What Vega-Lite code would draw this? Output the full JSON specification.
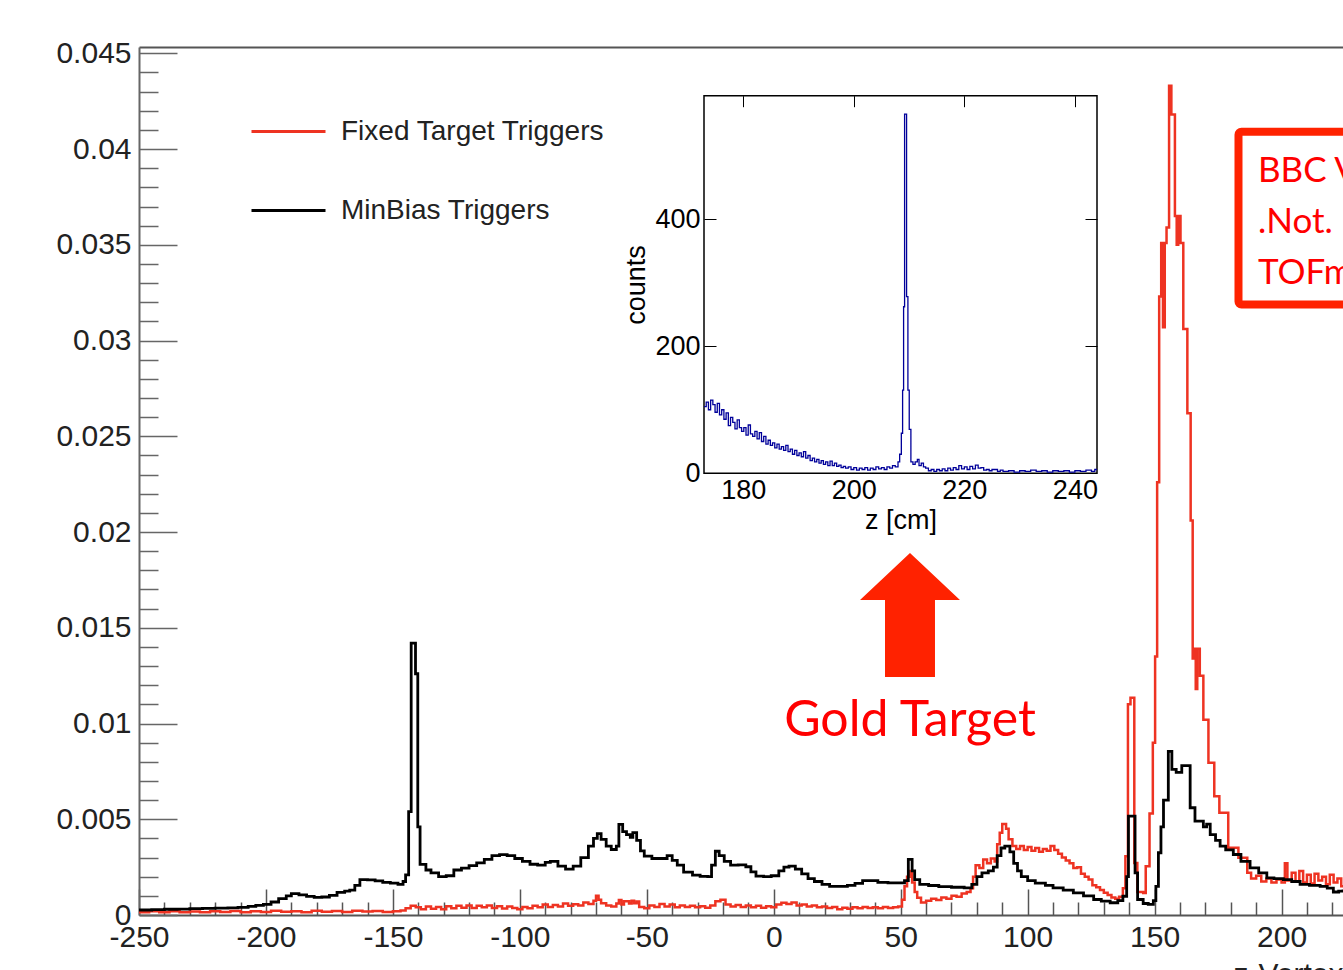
{
  "$schema": "https://vega.github.io/schema/vega-lite/v6.json",
  "width": 1204,
  "height": 868,
  "autosize": {"type": "none"},
  "padding": {"left": 139, "top": 47, "right": 0, "bottom": 55},
  "background": "white",
  "config": {
    "view": {"stroke": null},
    "font": "Liberation Sans",
    "axis": {"grid": false, "labelFont": "Liberation Sans", "titleFont": "Liberation Sans", "titleFontWeight": "normal"},
    "legend": {"orient": "none", "legendX": 111, "legendY": 46, "symbolType": "stroke", "symbolSize": 5476, "symbolStrokeWidth": 3, "labelFontSize": 28, "labelFont": "Liberation Sans", "labelColor": "#222", "rowPadding": 26, "labelOffset": 14, "padding": 0, "labelLimit": 500}
  },
  "datasets": {
    "fixed": [
      {"z":-250,"v":0.00015},{"z":-246,"v":0.00019},{"z":-242,"v":0.00014},{"z":-238,"v":0.0002},{"z":-234,"v":0.00015},{"z":-230,"v":0.00018},{"z":-226,"v":0.00014},{"z":-222,"v":0.0002},{"z":-218,"v":0.00016},{"z":-214,"v":0.00021},{"z":-210,"v":0.00015},{"z":-206,"v":0.00019},{"z":-202,"v":0.00016},{"z":-198,"v":0.00022},{"z":-194,"v":0.00017},{"z":-190,"v":0.0002},{"z":-186,"v":0.00015},{"z":-182,"v":0.00022},{"z":-178,"v":0.00017},{"z":-174,"v":0.00021},{"z":-170,"v":0.00016},{"z":-166,"v":0.00022},{"z":-162,"v":0.00018},{"z":-158,"v":0.00021},{"z":-154,"v":0.00016},{"z":-150,"v":0.0002},{"z":-147,"v":0.00024},{"z":-145,"v":0.00035},{"z":-143,"v":0.00048},{"z":-141,"v":0.0004},{"z":-139,"v":0.0003},{"z":-137,"v":0.00045},{"z":-135,"v":0.00033},{"z":-133,"v":0.00042},{"z":-131,"v":0.0003},{"z":-129,"v":0.00046},{"z":-127,"v":0.00035},{"z":-125,"v":0.00048},{"z":-123,"v":0.00038},{"z":-121,"v":0.0005},{"z":-119,"v":0.00037},{"z":-117,"v":0.00048},{"z":-115,"v":0.0004},{"z":-113,"v":0.0005},{"z":-111,"v":0.00036},{"z":-109,"v":0.00046},{"z":-107,"v":0.00034},{"z":-105,"v":0.00044},{"z":-103,"v":0.00036},{"z":-101,"v":0.0003},{"z":-99,"v":0.00042},{"z":-97,"v":0.00035},{"z":-95,"v":0.00048},{"z":-93,"v":0.0004},{"z":-91,"v":0.00055},{"z":-89,"v":0.00042},{"z":-87,"v":0.00052},{"z":-85,"v":0.00045},{"z":-83,"v":0.0006},{"z":-81,"v":0.00048},{"z":-79,"v":0.00056},{"z":-77,"v":0.0005},{"z":-75,"v":0.00065},{"z":-73,"v":0.00058},{"z":-71,"v":0.00075},{"z":-70,"v":0.001},{"z":-69,"v":0.0008},{"z":-68,"v":0.00062},{"z":-66,"v":0.0005},{"z":-64,"v":0.00045},{"z":-62,"v":0.0006},{"z":-61,"v":0.00078},{"z":-60,"v":0.00055},{"z":-59,"v":0.00072},{"z":-57,"v":0.0006},{"z":-56,"v":0.00075},{"z":-55,"v":0.00062},{"z":-54,"v":0.0007},{"z":-53,"v":0.00042},{"z":-51,"v":0.00035},{"z":-49,"v":0.0005},{"z":-47,"v":0.00042},{"z":-45,"v":0.00058},{"z":-43,"v":0.00044},{"z":-41,"v":0.00055},{"z":-39,"v":0.0004},{"z":-37,"v":0.0005},{"z":-35,"v":0.00042},{"z":-33,"v":0.00048},{"z":-31,"v":0.0004},{"z":-29,"v":0.00046},{"z":-27,"v":0.00038},{"z":-25,"v":0.0005},{"z":-23,"v":0.00072},{"z":-21,"v":0.0008},{"z":-19,"v":0.00055},{"z":-17,"v":0.00045},{"z":-15,"v":0.00052},{"z":-13,"v":0.00042},{"z":-11,"v":0.0005},{"z":-9,"v":0.0004},{"z":-7,"v":0.00048},{"z":-5,"v":0.00038},{"z":-3,"v":0.00046},{"z":-1,"v":0.0004},{"z":1,"v":0.00055},{"z":3,"v":0.00064},{"z":5,"v":0.00058},{"z":7,"v":0.00065},{"z":9,"v":0.0005},{"z":11,"v":0.00055},{"z":13,"v":0.00045},{"z":15,"v":0.0005},{"z":17,"v":0.0004},{"z":19,"v":0.00045},{"z":21,"v":0.00036},{"z":23,"v":0.00042},{"z":25,"v":0.0003},{"z":27,"v":0.00038},{"z":29,"v":0.00032},{"z":31,"v":0.0004},{"z":33,"v":0.00035},{"z":35,"v":0.00042},{"z":37,"v":0.00036},{"z":39,"v":0.0004},{"z":41,"v":0.00035},{"z":43,"v":0.00042},{"z":45,"v":0.00036},{"z":47,"v":0.0004},{"z":49,"v":0.00045},{"z":50.5,"v":0.0008},{"z":51.5,"v":0.0015},{"z":52.5,"v":0.002},{"z":53.5,"v":0.0023},{"z":54.5,"v":0.0017},{"z":55.5,"v":0.0012},{"z":56.5,"v":0.0009},{"z":58,"v":0.00065},{"z":60,"v":0.00075},{"z":62,"v":0.00085},{"z":64,"v":0.00078},{"z":66,"v":0.00092},{"z":68,"v":0.00085},{"z":70,"v":0.001},{"z":72,"v":0.00095},{"z":74,"v":0.00112},{"z":76,"v":0.0012},{"z":77.5,"v":0.0014},{"z":78.5,"v":0.002},{"z":79.5,"v":0.0026},{"z":81,"v":0.00245},{"z":82.5,"v":0.0029},{"z":84,"v":0.0027},{"z":85.5,"v":0.00295},{"z":87,"v":0.0028},{"z":88,"v":0.0037},{"z":89,"v":0.0043},{"z":90,"v":0.00475},{"z":91.5,"v":0.0045},{"z":92.5,"v":0.00395},{"z":94,"v":0.0036},{"z":95.5,"v":0.00345},{"z":97,"v":0.0036},{"z":98.5,"v":0.0034},{"z":100,"v":0.00355},{"z":101.5,"v":0.00335},{"z":103,"v":0.0035},{"z":104.5,"v":0.0033},{"z":106,"v":0.00345},{"z":107.5,"v":0.00335},{"z":109,"v":0.0036},{"z":110.5,"v":0.0034},{"z":112,"v":0.0032},{"z":113.5,"v":0.003},{"z":115,"v":0.00285},{"z":116.5,"v":0.0027},{"z":118,"v":0.00246},{"z":119.5,"v":0.0025},{"z":121,"v":0.00215},{"z":122.5,"v":0.002},{"z":124,"v":0.00185},{"z":125.5,"v":0.00155},{"z":127,"v":0.00145},{"z":128.5,"v":0.0013},{"z":130,"v":0.00116},{"z":131.5,"v":0.00105},{"z":133,"v":0.00092},{"z":134.5,"v":0.00085},{"z":136,"v":0.00095},{"z":137.5,"v":0.0014},{"z":138.5,"v":0.00307},{"z":139.5,"v":0.011},{"z":140.5,"v":0.01134},{"z":142,"v":0.00272},{"z":143.2,"v":0.0012},{"z":145.5,"v":0.00115},{"z":146.5,"v":0.00255},{"z":148,"v":0.0053},{"z":149.3,"v":0.009},{"z":150.2,"v":0.0135},{"z":151,"v":0.0226},{"z":151.8,"v":0.0323},{"z":152.6,"v":0.0351},{"z":153.3,"v":0.0307},{"z":154,"v":0.0351},{"z":154.7,"v":0.0359},{"z":155.7,"v":0.0433},{"z":156.6,"v":0.0418},{"z":158,"v":0.0365},{"z":158.7,"v":0.035},{"z":159.3,"v":0.0365},{"z":160.2,"v":0.0351},{"z":161.3,"v":0.0306},{"z":162.9,"v":0.0262},{"z":164.2,"v":0.0206},{"z":165,"v":0.0134},{"z":165.7,"v":0.0139},{"z":166.2,"v":0.0118},{"z":166.8,"v":0.0139},{"z":167.8,"v":0.0125},{"z":169.2,"v":0.0102},{"z":171.2,"v":0.00795},{"z":173.5,"v":0.0062},{"z":175.5,"v":0.00534},{"z":179,"v":0.00351},{"z":183,"v":0.00299},{"z":186.5,"v":0.0022},{"z":188,"v":0.0019},{"z":190,"v":0.00205},{"z":192,"v":0.00175},{"z":194,"v":0.0019},{"z":196,"v":0.0017},{"z":198,"v":0.00185},{"z":200,"v":0.0017},{"z":201.3,"v":0.0027},{"z":202.3,"v":0.0018},{"z":204,"v":0.0022},{"z":205.5,"v":0.00175},{"z":207,"v":0.0023},{"z":208.5,"v":0.0017},{"z":210,"v":0.0021},{"z":211.5,"v":0.00165},{"z":213,"v":0.00215},{"z":214.5,"v":0.0018},{"z":216,"v":0.002},{"z":217.5,"v":0.0016},{"z":219,"v":0.0021},{"z":220.5,"v":0.0017},{"z":222,"v":0.0019},{"z":223.5,"v":0.0015},{"z":224.2,"v":0.0015}
    ],
    "minbias": [
      {"z":-250,"v":0.00026},{"z":-245,"v":0.00028},{"z":-240,"v":0.0003},{"z":-235,"v":0.00031},{"z":-230,"v":0.00033},{"z":-225,"v":0.00035},{"z":-220,"v":0.00036},{"z":-215,"v":0.00037},{"z":-211,"v":0.0004},{"z":-207,"v":0.00045},{"z":-204,"v":0.0005},{"z":-201,"v":0.00056},{"z":-198,"v":0.00068},{"z":-195,"v":0.00085},{"z":-192,"v":0.001},{"z":-190,"v":0.00112},{"z":-187,"v":0.00105},{"z":-184,"v":0.00097},{"z":-181,"v":0.00092},{"z":-178,"v":0.00094},{"z":-175,"v":0.00102},{"z":-172,"v":0.00118},{"z":-169,"v":0.00125},{"z":-167,"v":0.0013},{"z":-165,"v":0.00155},{"z":-163,"v":0.00185},{"z":-160,"v":0.00183},{"z":-157,"v":0.00178},{"z":-154,"v":0.0017},{"z":-151,"v":0.00166},{"z":-148,"v":0.0016},{"z":-146,"v":0.00175},{"z":-145,"v":0.0021},{"z":-143.8,"v":0.0054},{"z":-142.8,"v":0.0142},{"z":-141.1,"v":0.0126},{"z":-140.2,"v":0.0046},{"z":-139.3,"v":0.00264},{"z":-137,"v":0.00235},{"z":-135,"v":0.0022},{"z":-132,"v":0.002},{"z":-129,"v":0.00205},{"z":-126,"v":0.00235},{"z":-123,"v":0.00245},{"z":-120,"v":0.00258},{"z":-117,"v":0.00272},{"z":-114,"v":0.0029},{"z":-111,"v":0.0031},{"z":-108,"v":0.00315},{"z":-105,"v":0.0031},{"z":-102,"v":0.00295},{"z":-99,"v":0.0028},{"z":-96,"v":0.00265},{"z":-93,"v":0.0026},{"z":-90,"v":0.00275},{"z":-88,"v":0.0028},{"z":-85,"v":0.00255},{"z":-82,"v":0.0024},{"z":-79,"v":0.00255},{"z":-76,"v":0.003},{"z":-73,"v":0.0036},{"z":-71,"v":0.004},{"z":-69.5,"v":0.00425},{"z":-68,"v":0.00395},{"z":-66,"v":0.0036},{"z":-64,"v":0.00342},{"z":-62,"v":0.0036},{"z":-61,"v":0.00473},{"z":-59.5,"v":0.00435},{"z":-58,"v":0.0042},{"z":-56.5,"v":0.00405},{"z":-55.5,"v":0.0043},{"z":-54,"v":0.0039},{"z":-52.5,"v":0.00335},{"z":-51,"v":0.00307},{"z":-48,"v":0.00295},{"z":-45,"v":0.00295},{"z":-42,"v":0.0031},{"z":-40,"v":0.00285},{"z":-38,"v":0.0026},{"z":-35.5,"v":0.00224},{"z":-32,"v":0.00208},{"z":-29,"v":0.00202},{"z":-26,"v":0.002},{"z":-24.5,"v":0.0026},{"z":-23,"v":0.00333},{"z":-21.5,"v":0.0031},{"z":-19.5,"v":0.0028},{"z":-17,"v":0.0026},{"z":-14,"v":0.00262},{"z":-11,"v":0.00252},{"z":-9,"v":0.00225},{"z":-7,"v":0.00203},{"z":-4,"v":0.002},{"z":-1,"v":0.00205},{"z":2,"v":0.0023},{"z":4,"v":0.0025},{"z":6,"v":0.00255},{"z":8.5,"v":0.0024},{"z":11,"v":0.00215},{"z":13.5,"v":0.0019},{"z":16,"v":0.00175},{"z":19,"v":0.0016},{"z":22,"v":0.0015},{"z":26,"v":0.0015},{"z":29,"v":0.00155},{"z":32,"v":0.00165},{"z":35,"v":0.0018},{"z":38,"v":0.0018},{"z":41,"v":0.0017},{"z":45,"v":0.00168},{"z":49,"v":0.00168},{"z":51.5,"v":0.0018},{"z":53,"v":0.0029},{"z":54.5,"v":0.0023},{"z":55.5,"v":0.00185},{"z":57.5,"v":0.0016},{"z":61,"v":0.00154},{"z":65,"v":0.00148},{"z":70,"v":0.00145},{"z":75,"v":0.00142},{"z":78,"v":0.0016},{"z":80,"v":0.002},{"z":82,"v":0.0022},{"z":84.5,"v":0.0023},{"z":86.5,"v":0.0025},{"z":88,"v":0.0031},{"z":89.5,"v":0.0035},{"z":91,"v":0.0036},{"z":93,"v":0.0033},{"z":94.5,"v":0.0027},{"z":96,"v":0.0023},{"z":97.5,"v":0.002},{"z":100,"v":0.0018},{"z":103,"v":0.00166},{"z":107,"v":0.00155},{"z":110,"v":0.00142},{"z":114,"v":0.0013},{"z":118,"v":0.00116},{"z":122,"v":0.001},{"z":126,"v":0.00081},{"z":129,"v":0.00072},{"z":132.5,"v":0.00064},{"z":135.5,"v":0.00075},{"z":137.5,"v":0.00098},{"z":139,"v":0.002},{"z":139.7,"v":0.00516},{"z":142.3,"v":0.0022},{"z":143.3,"v":0.00081},{"z":145.5,"v":0.0006},{"z":147.5,"v":0.00055},{"z":149.5,"v":0.00075},{"z":150.5,"v":0.0015},{"z":151.5,"v":0.00325},{"z":152.5,"v":0.0046},{"z":153.5,"v":0.006},{"z":155.4,"v":0.00855},{"z":156.8,"v":0.0076},{"z":158.5,"v":0.00745},{"z":160.7,"v":0.0078},{"z":164,"v":0.0056},{"z":165.9,"v":0.0049},{"z":169.2,"v":0.0046},{"z":170.5,"v":0.00475},{"z":171.9,"v":0.0042},{"z":174,"v":0.0039},{"z":175.8,"v":0.0036},{"z":178,"v":0.0034},{"z":181,"v":0.00316},{"z":184,"v":0.0028},{"z":187.6,"v":0.00246},{"z":191,"v":0.0022},{"z":194.2,"v":0.00194},{"z":197,"v":0.0019},{"z":200.7,"v":0.00185},{"z":204,"v":0.00175},{"z":207.3,"v":0.0016},{"z":211,"v":0.00155},{"z":215.2,"v":0.0015},{"z":218,"v":0.0014},{"z":220.4,"v":0.0012},{"z":222.5,"v":0.00125},{"z":224.2,"v":0.00133}
    ],
    "inset": [
      {"z":172.9,"c":105},{"z":173.3,"c":112},{"z":173.7,"c":100},{"z":174.1,"c":115},{"z":174.5,"c":108},{"z":174.9,"c":96},{"z":175.3,"c":110},{"z":175.7,"c":92},{"z":176.1,"c":100},{"z":176.5,"c":85},{"z":176.9,"c":95},{"z":177.3,"c":75},{"z":177.7,"c":88},{"z":178.1,"c":80},{"z":178.5,"c":70},{"z":178.9,"c":84},{"z":179.3,"c":72},{"z":179.7,"c":66},{"z":180.1,"c":72},{"z":180.5,"c":60},{"z":180.9,"c":76},{"z":181.3,"c":62},{"z":181.7,"c":58},{"z":182.1,"c":66},{"z":182.5,"c":54},{"z":182.9,"c":64},{"z":183.3,"c":50},{"z":183.7,"c":58},{"z":184.1,"c":46},{"z":184.5,"c":52},{"z":184.9,"c":44},{"z":185.3,"c":48},{"z":185.7,"c":40},{"z":186.1,"c":46},{"z":186.5,"c":38},{"z":186.9,"c":42},{"z":187.3,"c":36},{"z":187.7,"c":44},{"z":188.1,"c":34},{"z":188.5,"c":38},{"z":188.9,"c":30},{"z":189.3,"c":36},{"z":189.7,"c":28},{"z":190.1,"c":32},{"z":190.5,"c":26},{"z":190.9,"c":34},{"z":191.3,"c":24},{"z":191.7,"c":28},{"z":192.1,"c":20},{"z":192.5,"c":24},{"z":192.9,"c":18},{"z":193.3,"c":22},{"z":193.7,"c":16},{"z":194.1,"c":20},{"z":194.5,"c":14},{"z":194.9,"c":18},{"z":195.3,"c":12},{"z":195.7,"c":19},{"z":196.1,"c":12},{"z":196.5,"c":16},{"z":196.9,"c":11},{"z":197.3,"c":13},{"z":197.7,"c":9},{"z":198.1,"c":11},{"z":198.5,"c":8},{"z":199,"c":10},{"z":199.5,"c":6},{"z":200,"c":9},{"z":200.5,"c":5},{"z":201,"c":8},{"z":201.5,"c":6},{"z":202,"c":9},{"z":202.5,"c":5},{"z":203,"c":8},{"z":203.5,"c":6},{"z":204,"c":10},{"z":204.5,"c":7},{"z":205,"c":9},{"z":205.5,"c":6},{"z":206,"c":10},{"z":206.5,"c":8},{"z":207,"c":12},{"z":207.5,"c":10},{"z":208,"c":18},{"z":208.3,"c":30},{"z":208.6,"c":63},{"z":208.83,"c":131},{"z":209.01,"c":262},{"z":209.19,"c":565},{"z":209.55,"c":278},{"z":209.79,"c":131},{"z":210.03,"c":69},{"z":210.33,"c":18},{"z":210.7,"c":14},{"z":211.1,"c":18},{"z":211.5,"c":22},{"z":211.8,"c":12},{"z":212.2,"c":16},{"z":212.6,"c":10},{"z":213,"c":8},{"z":213.5,"c":4},{"z":214,"c":6},{"z":214.5,"c":3},{"z":215,"c":6},{"z":215.5,"c":4},{"z":216,"c":7},{"z":216.5,"c":4},{"z":217,"c":8},{"z":217.5,"c":5},{"z":218,"c":9},{"z":218.5,"c":6},{"z":219,"c":12},{"z":219.5,"c":7},{"z":220,"c":10},{"z":220.5,"c":6},{"z":221,"c":11},{"z":221.5,"c":7},{"z":222,"c":13},{"z":222.5,"c":8},{"z":223,"c":9},{"z":223.5,"c":5},{"z":224,"c":6},{"z":224.5,"c":4},{"z":225,"c":6},{"z":226,"c":3},{"z":226.5,"c":5},{"z":227,"c":3},{"z":228,"c":4},{"z":229,"c":2},{"z":230,"c":4},{"z":231,"c":3},{"z":232,"c":5},{"z":233,"c":3},{"z":234,"c":4},{"z":235,"c":2},{"z":236,"c":4},{"z":237,"c":3},{"z":238,"c":4},{"z":239,"c":2},{"z":240,"c":4},{"z":241,"c":3},{"z":242,"c":5},{"z":243,"c":3},{"z":243.6,"c":6},{"z":244,"c":6}
    ]
  },
  "resolve": {"scale": {"x": "independent", "y": "independent"}, "axis": {"x": "independent", "y": "independent"}},
  "layer": [
    {
      "data": {"name": "fixed"},
      "mark": {"type": "line", "interpolate": "step-after", "strokeWidth": 2.5},
      "encoding": {
        "x": {"field": "z", "type": "quantitative", "scale": {"domain": [-250, 224.2], "nice": false, "zero": false}, "axis": null},
        "y": {"field": "v", "type": "quantitative", "scale": {"domain": [0, 0.04533], "nice": false, "zero": false}, "axis": null},
        "color": {"datum": "Fixed Target Triggers", "type": "nominal", "scale": {"domain": ["Fixed Target Triggers", "MinBias Triggers"], "range": ["#ee3322", "#000000"]}, "legend": {"title": null}}
      }
    },
    {
      "data": {"name": "minbias"},
      "mark": {"type": "line", "interpolate": "step-after", "strokeWidth": 2.8},
      "encoding": {
        "x": {"field": "z", "type": "quantitative", "scale": {"domain": [-250, 224.2], "nice": false, "zero": false},
          "axis": {"orient": "bottom", "values": [-250,-240,-230,-220,-210,-200,-190,-180,-170,-160,-150,-140,-130,-120,-110,-100,-90,-80,-70,-60,-50,-40,-30,-20,-10,0,10,20,30,40,50,60,70,80,90,100,110,120,130,140,150,160,170,180,190,200,210,220],
            "labelExpr": "round(datum.value) % 50 == 0 ? '' + datum.value : ''",
            "tickSize": {"condition": {"test": "round(datum.value) % 50 == 0", "value": -26}, "value": -13},
            "tickColor": "#555", "tickWidth": 1.5, "domainColor": "#555", "domainWidth": 2,
            "labelFontSize": 30, "labelColor": "#222", "labelPadding": 33, "labelFlush": false, "labelOverlap": false,
            "title": "z-Vertex [cm]", "titleFontSize": 30, "titleColor": "#222", "titleAlign": "right", "titleAnchor": "end", "titleX": 1269, "titleY": 68, "titleBaseline": "alphabetic"}},
        "y": {"field": "v", "type": "quantitative", "scale": {"domain": [0, 0.04533], "nice": false, "zero": false},
          "axis": {"orient": "left", "values": [0,0.001,0.002,0.003,0.004,0.005,0.006,0.007,0.008,0.009,0.01,0.011,0.012,0.013,0.014,0.015,0.016,0.017,0.018,0.019,0.02,0.021,0.022,0.023,0.024,0.025,0.026,0.027,0.028,0.029,0.03,0.031,0.032,0.033,0.034,0.035,0.036,0.037,0.038,0.039,0.04,0.041,0.042,0.043,0.044,0.045],
            "labelExpr": "round(datum.value * 1000) % 5 == 0 ? '' + datum.value : ''",
            "tickSize": {"condition": {"test": "round(datum.value * 1000) % 5 == 0", "value": -38}, "value": -19},
            "tickColor": "#666", "tickWidth": 1.5, "domainColor": "#666", "domainWidth": 2,
            "labelFontSize": 30, "labelColor": "#222", "labelPadding": 46, "labelFlush": false, "labelOverlap": false, "title": null}},
        "color": {"datum": "MinBias Triggers", "type": "nominal", "scale": {"domain": ["Fixed Target Triggers", "MinBias Triggers"], "range": ["#ee3322", "#000000"]}, "legend": {"title": null}}
      }
    },
    {
      "data": {"values": [{}]},
      "mark": {"type": "rect", "fillOpacity": 0, "stroke": "black", "strokeWidth": 1.5},
      "encoding": {
        "x": {"datum": 172.9, "type": "quantitative", "scale": {"domain": [172.9, 244], "range": [565, 958], "nice": false, "zero": false},
          "axis": {"orient": "top", "offset": -48.7, "values": [180, 200, 220, 240], "labels": false, "domain": false, "tickSize": -11, "tickColor": "black", "tickWidth": 1, "title": null}},
        "x2": {"datum": 244},
        "y": {"datum": 0, "type": "quantitative", "scale": {"domain": [0, 594], "range": [426.3, 48.7], "nice": false, "zero": false},
          "axis": {"orient": "right", "offset": -246, "values": [200, 400], "labels": false, "domain": false, "tickSize": -12, "tickColor": "black", "tickWidth": 1, "title": null}},
        "y2": {"datum": 594}
      }
    },
    {
      "data": {"name": "inset"},
      "mark": {"type": "line", "interpolate": "step-after", "color": "#00009a", "strokeWidth": 1.3},
      "encoding": {
        "x": {"field": "z", "type": "quantitative", "scale": {"domain": [172.9, 244], "range": [565, 958], "nice": false, "zero": false},
          "axis": {"orient": "bottom", "offset": -441.7, "values": [180, 200, 220, 240], "ticks": false, "domain": false, "labelFontSize": 27, "labelColor": "black", "labelPadding": 4, "labelFlush": false, "title": "z [cm]", "titleFontSize": 27, "titleColor": "black", "titlePadding": 4}},
        "y": {"field": "c", "type": "quantitative", "scale": {"domain": [0, 594], "range": [426.3, 48.7], "nice": false, "zero": false},
          "axis": {"orient": "left", "offset": -565, "values": [0, 200, 400], "tickSize": -12, "tickColor": "black", "tickWidth": 1, "domain": false, "labelFontSize": 27, "labelColor": "black", "labelPadding": 16, "labelFlush": false, "title": "counts", "titleFontSize": 27, "titleColor": "black", "titlePadding": 4}}
      }
    },
    {
      "data": {"values": [{}]},
      "mark": {"type": "point", "shape": "M0,-1L0.806,-0.242L0.403,-0.242L0.403,1L-0.403,1L-0.403,-0.242L-0.806,-0.242Z", "filled": true, "fill": "#ff2200", "opacity": 1, "strokeWidth": 0, "size": 15376},
      "encoding": {
        "x": {"datum": 53.66, "type": "quantitative", "scale": {"domain": [-250, 224.2], "nice": false, "zero": false}, "axis": null},
        "y": {"datum": 0.015667, "type": "quantitative", "scale": {"domain": [0, 0.04533], "nice": false, "zero": false}, "axis": null}
      }
    },
    {
      "data": {"values": [{}]},
      "mark": {"type": "text", "text": "Gold Target", "font": "Lato", "fontSize": 50, "fill": "#ff0000", "align": "center", "baseline": "alphabetic"},
      "encoding": {
        "x": {"datum": 53.66, "type": "quantitative", "scale": {"domain": [-250, 224.2], "nice": false, "zero": false},
          "axis": {"orient": "top", "ticks": false, "labels": false, "domain": true, "domainColor": "#555", "domainWidth": 2, "title": null}},
        "y": {"datum": 0.009348, "type": "quantitative", "scale": {"domain": [0, 0.04533], "nice": false, "zero": false}, "axis": null}
      }
    },
    {
      "data": {"values": [{}]},
      "mark": {"type": "rect", "fillOpacity": 0, "stroke": "#ff2200", "strokeWidth": 8, "cornerRadius": 3},
      "encoding": {
        "x": {"datum": 183.04, "type": "quantitative", "scale": {"domain": [-250, 224.2], "nice": false, "zero": false}, "axis": null},
        "x2": {"datum": 300},
        "y": {"datum": 0.040905, "type": "quantitative", "scale": {"domain": [0, 0.04533], "nice": false, "zero": false}, "axis": null},
        "y2": {"datum": 0.031882}
      }
    },
    {
      "data": {"values": [{}]},
      "mark": {"type": "text", "text": ["BBC Vtx", ".Not.", "TOFmult"], "lineHeight": 51, "font": "Lato", "fontSize": 35, "fill": "#ff0000", "align": "left", "baseline": "alphabetic"},
      "encoding": {
        "x": {"datum": 190.72, "type": "quantitative", "scale": {"domain": [-250, 224.2], "nice": false, "zero": false}, "axis": null},
        "y": {"datum": 0.038279, "type": "quantitative", "scale": {"domain": [0, 0.04533], "nice": false, "zero": false}, "axis": null}
      }
    }
  ]
}
